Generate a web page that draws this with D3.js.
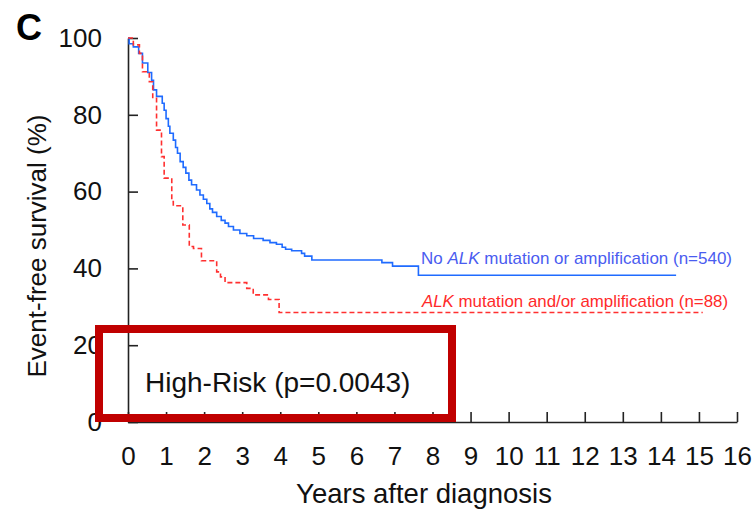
<!DOCTYPE html>
<html>
<meta charset="utf-8">
<title>Event-free survival, High-Risk</title>
<style>
html, body {
    margin: 0;
    padding: 0;
    background: #fff;
}
svg text {
    font-family: "Liberation Sans", Arial, sans-serif;
}
.axis path, .axis line {
    stroke: #222;
    stroke-width: 1.6px;
}
.axis text {
    font-size: 26px;
    fill: #111;
}
</style>
<body>
<div id="chart"></div>
<script src="https://d3js.org/d3.v7.min.js"></script>
<script>
// Kaplan-Meier steps: time (years) and survival (%) after each step
var noAlkYears = [0, 0.03, 0.14, 0.28, 0.38, 0.52, 0.62, 0.67, 0.75, 0.9, 0.95, 1.0, 1.06, 1.1, 1.19, 1.25, 1.3, 1.37,
    1.45, 1.52, 1.6, 1.67, 1.8, 1.89, 1.98, 2.07, 2.15, 2.22, 2.33, 2.45, 2.55, 2.64, 2.77, 2.94, 3.12, 3.3, 3.55,
    3.73, 3.9, 4.05, 4.14, 4.3, 4.56, 4.64, 4.83, 6.67, 6.95, 7.63, 14.4];
var noAlkSurv = [100, 98.5, 97.7, 96, 93.5, 91, 89, 86.5, 84.8, 83, 81.2, 79, 77, 75.2, 73.4, 71.5, 70, 67.8,
    66.3, 64.8, 63, 61.8, 60.4, 59.1, 58, 56.9, 55.5, 54.6, 53.5, 52.5, 51.8, 50.9, 50, 49.1, 48.5, 47.8, 47.3,
    46.7, 46.3, 45.5, 45, 44.6, 43.9, 43.2, 42.2, 41.5, 40.6, 38.2, 38.2];

var alkYears = [0, 0.14, 0.3, 0.38, 0.56, 0.65, 0.75, 0.88, 0.95, 1.15, 1.19, 1.44, 1.61, 1.72, 1.93, 2.33, 2.43,
    2.55, 3.12, 3.29, 3.69, 3.97, 15.1];
var alkSurv = [100, 98.2, 96, 91.2, 88.6, 84.3, 76, 69.1, 63.5, 57.4, 56.3, 51.3, 45.7, 45.2, 42, 39.1, 37.8,
    36.3, 34.8, 33.1, 31.9, 28.5, 28.5];

var xTicks = d3.range(0, 17);
var yTicks = [0, 20, 40, 60, 80, 100];

var W = 753, H = 509;
var margin = {top: 38, right: 16, bottom: 87, left: 128};

var svg = d3.select("#chart").append("svg")
    .attr("width", W)
    .attr("height", H);

var x = d3.scaleLinear().domain([0, 16]).range([margin.left, W - margin.right]);
var y = d3.scaleLinear().domain([0, 100]).range([H - margin.bottom, margin.top]);

var gx = svg.append("g")
    .attr("class", "axis")
    .attr("transform", "translate(0," + y(0) + ")")
    .call(d3.axisBottom(x).tickValues(xTicks).tickSizeInner(-10).tickSizeOuter(0).tickPadding(25));

var gy = svg.append("g")
    .attr("class", "axis")
    .attr("transform", "translate(" + x(0) + ",0)")
    .call(d3.axisLeft(y).tickValues(yTicks).tickSizeInner(-10).tickSizeOuter(0).tickPadding(26));

svg.selectAll(".axis text").attr("font-family", null);

function steps(years, surv) {
    return years.map(function(t, i) { return [t, surv[i]]; });
}

var line = d3.line()
    .x(function(d) { return x(d[0]); })
    .y(function(d) { return y(d[1]); })
    .curve(d3.curveStepAfter);

svg.append("path")
    .datum(steps(noAlkYears, noAlkSurv))
    .attr("d", line)
    .attr("fill", "none")
    .attr("stroke", "#1f6bff")
    .attr("stroke-width", 1.6);

svg.append("path")
    .datum(steps(alkYears, alkSurv))
    .attr("d", line)
    .attr("fill", "none")
    .attr("stroke", "#ff3030")
    .attr("stroke-width", 1.6)
    .attr("stroke-dasharray", "5,3");

// legend labels next to the curves
var t1 = svg.append("text")
    .attr("x", 421).attr("y", 264)
    .attr("font-size", 17)
    .attr("textLength", 311)
    .attr("lengthAdjust", "spacingAndGlyphs")
    .attr("fill", "#4a5cf0");
t1.append("tspan").text("No ");
t1.append("tspan").attr("font-style", "italic").text("ALK");
t1.append("tspan").text(" mutation or amplification (n=540)");

var t2 = svg.append("text")
    .attr("x", 422).attr("y", 307)
    .attr("font-size", 17)
    .attr("textLength", 306)
    .attr("lengthAdjust", "spacingAndGlyphs")
    .attr("fill", "#ff2a2a");
t2.append("tspan").attr("font-style", "italic").text("ALK");
t2.append("tspan").text(" mutation and/or amplification (n=88)");

// axis titles
svg.append("text")
    .attr("x", 424).attr("y", 503)
    .attr("text-anchor", "middle")
    .attr("font-size", 27.5)
    .attr("fill", "#111")
    .text("Years after diagnosis");

svg.append("text")
    .attr("transform", "translate(46," + 246 + ") rotate(-90)")
    .attr("text-anchor", "middle")
    .attr("font-size", 26)
    .attr("fill", "#111")
    .text("Event-free survival (%)");

// panel letter
svg.append("text")
    .attr("x", 16).attr("y", 40)
    .attr("font-size", 36)
    .attr("font-weight", "bold")
    .attr("fill", "#000")
    .text("C");

// highlight box
svg.append("rect")
    .attr("x", 99).attr("y", 329)
    .attr("width", 353).attr("height", 89)
    .attr("fill", "none")
    .attr("stroke", "#c00000")
    .attr("stroke-width", 8);

svg.append("text")
    .attr("x", 145).attr("y", 392)
    .attr("font-size", 28)
    .attr("fill", "#111")
    .text("High-Risk (p=0.0043)");
</script>
</body>
</html>
